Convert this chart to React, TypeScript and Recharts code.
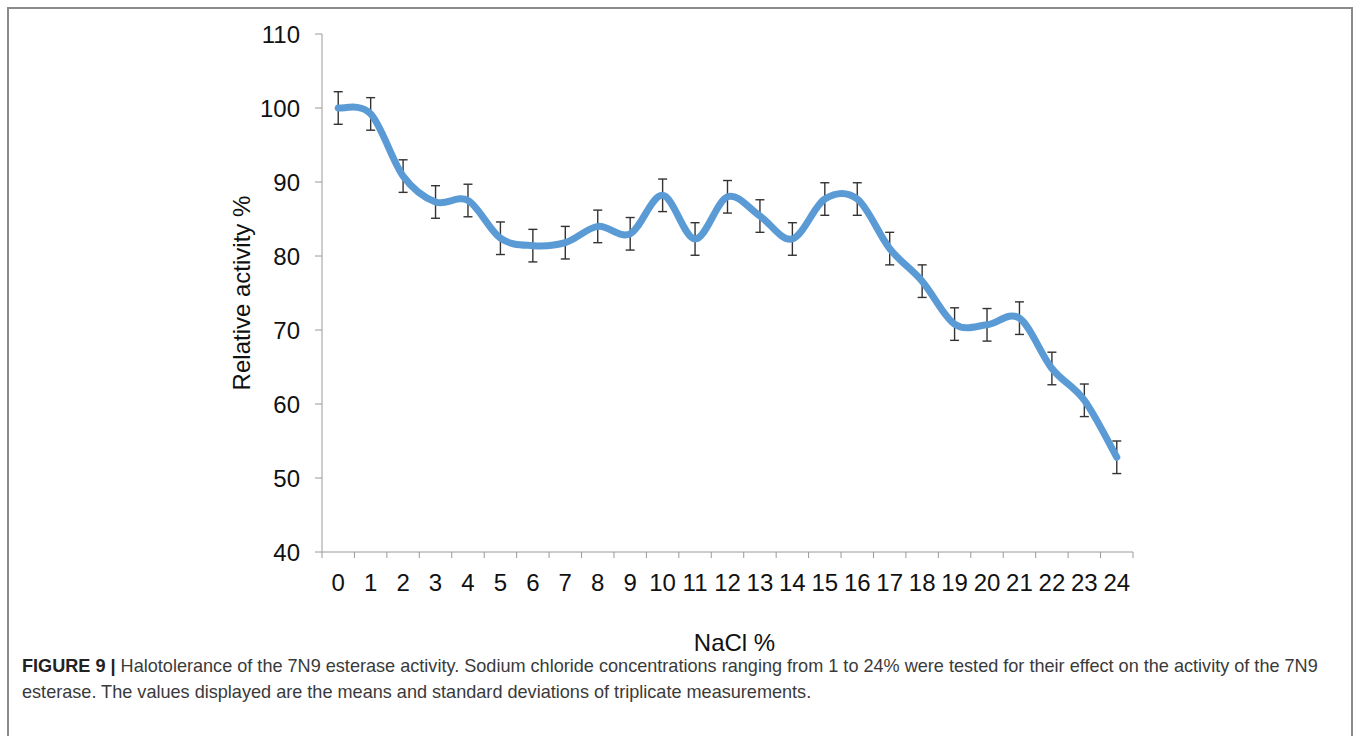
import { LineChart, Line, XAxis, YAxis, ErrorBar } from "recharts";

// NaCl concentration (%) on the x axis
const NACL = [0, 1, 2, 3, 4, 5, 6, 7, 8, 9, 10, 11, 12, 13, 14, 15, 16, 17, 18, 19, 20, 21, 22, 23, 24];
// relative activity (%)
const ACTIVITY = [100, 99.2, 90.8, 87.3, 87.5, 82.4, 81.4, 81.8, 84.0, 83.0, 88.2, 82.3, 88.0, 85.4, 82.3, 87.7, 87.7, 81.0, 76.6, 70.8, 70.7, 71.6, 64.8, 60.5, 52.8];
// standard deviations (triplicates)
const SD = [2.2, 2.2, 2.2, 2.2, 2.2, 2.2, 2.2, 2.2, 2.2, 2.2, 2.2, 2.2, 2.2, 2.2, 2.2, 2.2, 2.2, 2.2, 2.2, 2.2, 2.2, 2.2, 2.2, 2.2, 2.2];
const Y_TICKS = [40, 50, 60, 70, 80, 90, 100, 110];

const data = NACL.map((n, i) => ({ nacl: n, activity: ACTIVITY[i], sd: SD[i] }));

// excel style axis: tick marks between categories, labels on categories
const X_BOUNDS = [...NACL.map((n) => n - 0.5), NACL[NACL.length - 1] + 0.5];
const X_TICKS = [...X_BOUNDS, ...NACL].sort((a, b) => a - b);

const FONT = "'Liberation Sans', Arial, sans-serif";
const TEXT = "#111";
const AXIS = "#9a9a9a";
const FS = 24;

// smooth line like excel's "smoothed line" (catmull-rom through the points)
function smoothCurve(context: any) {
  let pts: number[][] = [];
  return {
    areaStart() {},
    areaEnd() {},
    lineStart() {
      pts = [];
    },
    point(x: number, y: number) {
      pts.push([+x, +y]);
    },
    lineEnd() {
      if (!pts.length) return;
      context.moveTo(pts[0][0], pts[0][1]);
      for (let i = 0; i < pts.length - 1; i++) {
        const p0 = pts[Math.max(i - 1, 0)];
        const p1 = pts[i];
        const p2 = pts[i + 1];
        const p3 = pts[Math.min(i + 2, pts.length - 1)];
        context.bezierCurveTo(
          p1[0] + (p2[0] - p0[0]) / 6,
          p1[1] + (p2[1] - p0[1]) / 6,
          p2[0] - (p3[0] - p1[0]) / 6,
          p2[1] - (p3[1] - p1[1]) / 6,
          p2[0],
          p2[1]
        );
      }
    },
  };
}

const XTick = (props: any) => {
  const { x, y, payload } = props;
  const v = payload.value;
  if (Number.isInteger(v)) {
    return (
      <text x={x} y={y + 31} textAnchor="middle" fontSize={FS} fontFamily={FONT} fill={TEXT}>
        {v}
      </text>
    );
  }
  return <line x1={x} x2={x} y1={y - 8} y2={y - 2} stroke={AXIS} strokeWidth={1} />;
};

export default function App() {
  return (
    <div style={{ position: "absolute", left: 0, top: 0, width: 1358, height: 736, overflow: "hidden", background: "#fff", fontFamily: FONT }}>
      {/* figure frame */}
      <div
        style={{
          position: "absolute",
          left: 7,
          top: 7,
          width: 1346,
          height: 760,
          border: "2px solid #8a8a8a",
          boxSizing: "border-box",
        }}
      />
      <div style={{ position: "absolute", left: 0, top: 0 }}>
        <LineChart width={1358} height={680} data={data} margin={{ top: 34, right: 225, bottom: 23, left: 222 }}>
          <XAxis
            dataKey="nacl"
            type="number"
            domain={[-0.5, 24.5]}
            ticks={X_TICKS}
            interval={0}
            tick={XTick}
            tickLine={false}
            tickSize={6}
            tickMargin={2}
            height={105}
            stroke={AXIS}
            label={{ value: "NaCl %", position: "insideBottom", offset: 6, dx: 7, fontSize: FS, fill: TEXT, fontFamily: FONT }}
          />
          <YAxis
            type="number"
            domain={[40, 110]}
            ticks={Y_TICKS}
            interval={0}
            width={100}
            tickSize={7}
            tickMargin={15}
            stroke={AXIS}
            tick={{ fontSize: FS, fill: TEXT, fontFamily: FONT }}
            label={{
              value: "Relative activity %",
              angle: -90,
              position: "insideLeft",
              offset: 19,
              fontSize: FS,
              fill: TEXT,
              fontFamily: FONT,
              style: { textAnchor: "middle" },
            }}
          />
          <Line dataKey="activity" type={smoothCurve as any} stroke="none" dot={false} activeDot={false} isAnimationActive={false}>
            <ErrorBar dataKey="sd" width={4.5} stroke="#333" strokeWidth={1.4} isAnimationActive={false} />
          </Line>
          <Line
            dataKey="activity"
            type={smoothCurve as any}
            stroke="#5B9BD5"
            strokeWidth={7}
            strokeLinecap="round"
            dot={false}
            activeDot={false}
            isAnimationActive={false}
          />
        </LineChart>
      </div>
      <div
        style={{
          position: "absolute",
          left: 22,
          top: 653,
          fontSize: 18.1,
          lineHeight: "26px",
          color: "#3a3a3a",
          whiteSpace: "nowrap",
        }}
      >
        <div>
          <b style={{ color: "#222" }}>FIGURE 9 |</b> Halotolerance of the 7N9 esterase activity. Sodium chloride concentrations ranging from 1 to 24% were
          tested for their effect on the activity of the 7N9
        </div>
        <div>esterase. The values displayed are the means and standard deviations of triplicate measurements.</div>
      </div>
    </div>
  );
}
